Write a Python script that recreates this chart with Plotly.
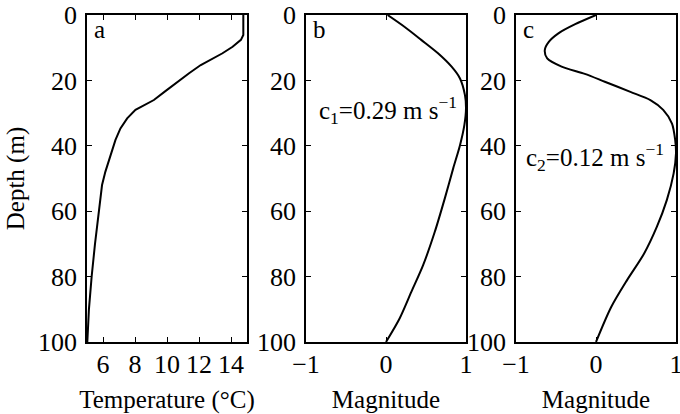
import plotly.graph_objects as go

# Panel a: temperature profile
depth_a = [0, 6.1, 7.6, 9.7, 11.7, 13.6, 15.3, 17.8, 20.4, 23.2, 26.0, 27.3, 29.0,
           31.6, 34.7, 38.2, 42.8, 47.9, 52.0, 60, 70, 80, 90, 100]
temp_a = [14.77, 14.77, 14.62, 14.10, 13.47, 12.74, 12.11, 11.38, 10.65, 9.92, 9.18,
          8.66, 8.03, 7.51, 7.09, 6.78, 6.46, 6.15, 5.94, 5.73, 5.50, 5.29, 5.12, 5.02]

# Panel b: first mode structure
depth_b = [0, 3.6, 7.6, 11.7, 15.8, 19.4, 24.5, 28.5, 33.6, 39.8, 46.9, 56.0, 66.3,
           76.5, 84.6, 92.8, 100]
mag_b = [0.02, 0.23, 0.44, 0.65, 0.82, 0.925, 0.987, 1.0, 0.98, 0.925, 0.84, 0.736,
         0.61, 0.464, 0.318, 0.17, 0.0]

# Panel c: second mode structure
depth_c = [0, 2.8, 5.6, 8.2, 10.7, 13.3, 15.8, 18.0, 20.4, 23.5, 26.0, 29.0, 33.2,
           38.3, 42.3, 48.5, 56.6, 64.8, 73.0, 81.0, 89.3, 100]
mag_c = [0.0, -0.26, -0.47, -0.59, -0.64, -0.61, -0.43, -0.14, 0.11, 0.43, 0.68, 0.84,
         0.95, 0.99, 1.0, 0.97, 0.885, 0.76, 0.60, 0.39, 0.19, 0.0]

temp_ticks = [6, 8, 10, 12, 14]
mag_ticks = [-1, 0, 1]
depth_ticks = [0, 20, 40, 60, 80, 100]

panel_letters = ["a", "b", "c"]
speed_labels = ["c<sub>1</sub>=0.29 m s<sup>−1</sup>", "c<sub>2</sub>=0.12 m s<sup>−1</sup>"]
speed_depths = [29.0, 43.5]

W, H = 680, 414
FONT = "Liberation Serif, Times New Roman, serif"

fig = go.Figure()
line = dict(color="black", width=2)
fig.add_trace(go.Scatter(x=temp_a, y=depth_a, mode="lines", line=line,
                         xaxis="x", yaxis="y"))
fig.add_trace(go.Scatter(x=mag_b, y=depth_b, mode="lines", line=dict(line, shape="spline", smoothing=0.8),
                         xaxis="x2", yaxis="y2"))
fig.add_trace(go.Scatter(x=mag_c, y=depth_c, mode="lines", line=dict(line, shape="spline", smoothing=0.8),
                         xaxis="x3", yaxis="y3"))

ydom = [(H - 342) / H, (H - 15) / H]
panels = [(87, 247), (306, 466), (516, 676)]

common = dict(showline=True, linecolor="black", linewidth=1.5, mirror="ticks",
              ticks="inside", ticklen=5, tickwidth=1, tickcolor="black",
              showgrid=False, zeroline=False, automargin=False,
              ticklabeloverflow="allow",
              tickfont=dict(family=FONT, size=26, color="black"))

layout = dict(width=W, height=H, margin=dict(l=0, r=0, t=0, b=0, autoexpand=False),
              plot_bgcolor="white", paper_bgcolor="white", showlegend=False,
              font=dict(family=FONT, size=26, color="black"))

for i, (l, r) in enumerate(panels):
    sfx = "" if i == 0 else str(i + 1)
    xa = dict(common, domain=[l / W, r / W], anchor="y" + sfx, ticklabelstandoff=-2,
              title=dict(text="Temperature (°C)" if i == 0 else "Magnitude",
                         font=dict(family=FONT, size=25, color="black"), standoff=13))
    if i == 0:
        xa.update(range=[5, 15], tickvals=temp_ticks)
    else:
        xa.update(range=[-1, 1], tickvals=mag_ticks)
    ya = dict(common, domain=ydom, anchor="x" + sfx, range=[100, 0],
              tickvals=depth_ticks, ticklabelstandoff=3)
    if i == 0:
        ya["title"] = dict(text="Depth (m)", font=dict(family=FONT, size=25, color="black"), standoff=6)
    layout["xaxis" + sfx] = xa
    layout["yaxis" + sfx] = ya

annotations = []
for i, letter in enumerate(panel_letters):
    sfx = "" if i == 0 else str(i + 1)
    annotations.append(dict(text=letter, xref="x" + sfx + " domain", yref="y" + sfx + " domain",
                            x=0.03, y=0.955, xanchor="left", yanchor="middle",
                            showarrow=False, font=dict(family=FONT, size=25, color="black")))
for i, (txt, d) in enumerate(zip(speed_labels, speed_depths)):
    sfx = str(i + 2)
    annotations.append(dict(text=txt, xref="x" + sfx + " domain", yref="y" + sfx,
                            x=0.07 if i == 0 else 0.05, y=d, xanchor="left", yanchor="middle",
                            showarrow=False, font=dict(family=FONT, size=25, color="black")))
layout["annotations"] = annotations

fig.update_layout(**layout)
fig.write_html("out.html")
